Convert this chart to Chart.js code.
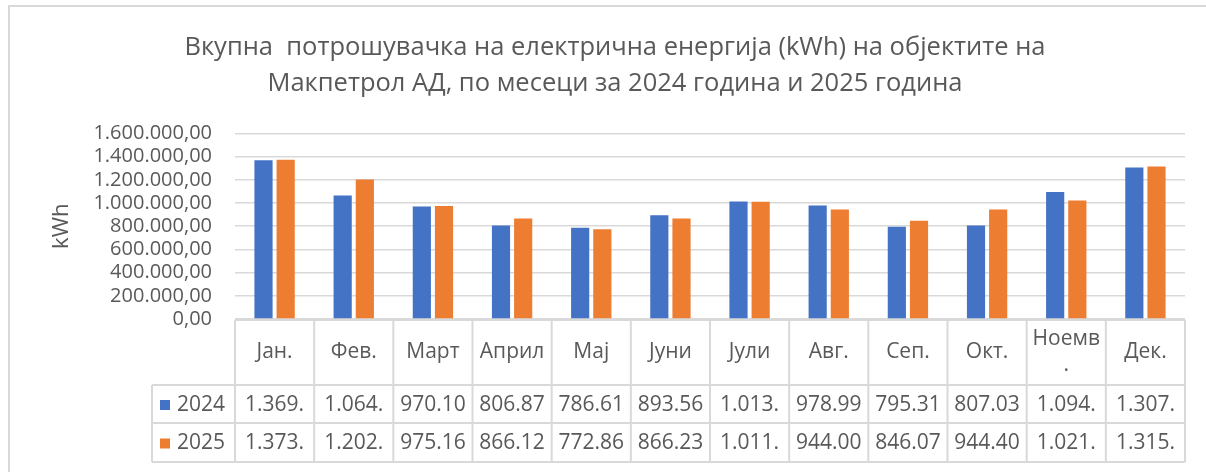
<!DOCTYPE html>
<html>
<head>
<meta charset="utf-8">
<script src="https://cdn.jsdelivr.net/npm/chart.js@4"></script>
<style>
  body { margin: 0; background: #fff; }
  #wrap { width: 1206px; height: 472px; }
</style>
</head>
<body>
<div id="wrap"><canvas id="chartCanvas" width="1206" height="472"></canvas></div>
<script>
const months = ['Јан.', 'Фев.', 'Март', 'Април', 'Мај', 'Јуни', 'Јули', 'Авг.', 'Сеп.', 'Окт.', 'Ноемв.', 'Дек.'];
const years = ['2024', '2025'];
const values2024 = [1369000, 1064000, 970100, 806870, 786610, 893560, 1013000, 978990, 795310, 807030, 1094000, 1307000];
const values2025 = [1373000, 1202000, 975160, 866120, 772860, 866230, 1011000, 944000, 846070, 944400, 1021000, 1315000];
const colors = ['#4472C4', '#ED7D31'];

const textColor = '#595959';
const lineColor = '#D9D9D9';
const fontFamily = '"Open Sans", sans-serif';

// 1.600.000,00 style
function fmt(v) {
  const parts = v.toFixed(2).split('.');
  const intPart = parts[0].replace(/\B(?=(\d{3})+(?!\d))/g, '.');
  return intPart + ',' + parts[1];
}

// data table under the plot, like excel
const tablePlugin = {
  id: 'dataTable',
  beforeDraw(chart) {
    const c = chart.ctx;
    c.save();
    c.strokeStyle = lineColor;
    c.lineWidth = 2;
    c.beginPath();
    c.moveTo(9, 472);
    c.lineTo(9, 6);
    c.lineTo(1206, 6);
    c.stroke();
    c.restore();
  },
  afterDraw(chart) {
    const c = chart.ctx;
    const area = chart.chartArea;
    const x = chart.scales.x;
    const colW = (area.right - area.left) / months.length;
    const top = area.bottom + 1;
    const rowY = [top, 385, 423, 462];
    const legendLeft = 152;

    c.save();
    c.strokeStyle = lineColor;
    c.lineWidth = 2;
    c.beginPath();
    c.moveTo(area.left, rowY[0]);
    c.lineTo(area.right, rowY[0]);
    for (let r = 1; r < rowY.length; r++) {
      c.moveTo(legendLeft, rowY[r]);
      c.lineTo(area.right, rowY[r]);
    }
    for (let i = 0; i <= months.length; i++) {
      const lx = area.left + i * colW;
      c.moveTo(lx, rowY[0]);
      c.lineTo(lx, rowY[3]);
    }
    c.moveTo(legendLeft, rowY[1]);
    c.lineTo(legendLeft, rowY[3]);
    c.stroke();

    c.fillStyle = textColor;
    c.font = '21px ' + fontFamily;
    c.textAlign = 'center';
    c.textBaseline = 'middle';

    // header row, wrap by characters when too wide
    months.forEach((m, i) => {
      const cx = x.getPixelForValue(i);
      const maxW = colW - 10;
      const lines = [];
      let cur = '';
      for (const ch of m) {
        if (c.measureText(cur + ch).width > maxW && cur) {
          lines.push(cur);
          cur = ch;
        } else {
          cur += ch;
        }
      }
      lines.push(cur);
      const mid = (rowY[0] + rowY[1]) / 2;
      const lh = 26;
      lines.forEach((ln, k) => {
        c.fillText(ln, cx, mid + (k - (lines.length - 1) / 2) * lh);
      });
    });

    const series = [values2024, values2025];
    series.forEach((vals, r) => {
      const cy = (rowY[r + 1] + rowY[r + 2]) / 2 + 1;
      c.textAlign = 'center';
      c.fillStyle = textColor;
      vals.forEach((v, i) => {
        c.fillText(fmt(v).slice(0, 6), x.getPixelForValue(i), cy);
      });
      c.fillStyle = colors[r];
      c.fillRect(legendLeft + 8, cy - 5, 10, 10);
      c.fillStyle = textColor;
      c.textAlign = 'left';
      c.fillText(years[r], legendLeft + 25, cy);
    });
    c.restore();
  }
};

const ctx = document.getElementById('chartCanvas').getContext('2d');

const chart = new Chart(ctx, {
  type: 'bar',
  data: {
    labels: months,
    datasets: [
      { label: years[0], data: values2024, backgroundColor: colors[0] },
      { label: years[1], data: values2025, backgroundColor: colors[1] }
    ]
  },
  options: {
    responsive: false,
    animation: false,
    events: [],
    categoryPercentage: 0.56,
    barPercentage: 0.82,
    layout: {
      padding: { left: 45, right: 21, top: 0, bottom: 153 }
    },
    plugins: {
      legend: { display: false },
      tooltip: { enabled: false },
      title: {
        display: true,
        text: [
          'Вкупна  потрошувачка на електрична енергија (kWh) на објектите на',
          'Макпетрол АД, по месеци за 2024 година и 2025 година'
        ],
        color: textColor,
        font: { family: fontFamily, size: 25.5, weight: 'normal', lineHeight: 1.4 },
        padding: { top: 30, bottom: 32 }
      }
    },
    scales: {
      x: {
        display: false
      },
      y: {
        min: 0,
        max: 1600000,
        afterFit(scale) { scale.width = 190; },
        ticks: {
          stepSize: 200000,
          autoSkip: false,
          color: textColor,
          padding: 23,
          font: { family: fontFamily, size: 20 },
          callback: v => fmt(v)
        },
        grid: { color: lineColor, lineWidth: 1.5, drawTicks: false },
        border: { display: false },
        title: {
          display: true,
          text: 'kWh',
          color: textColor,
          font: { family: fontFamily, size: 22 }
        }
      }
    }
  },
  plugins: [tablePlugin]
});
</script>
</body>
</html>
